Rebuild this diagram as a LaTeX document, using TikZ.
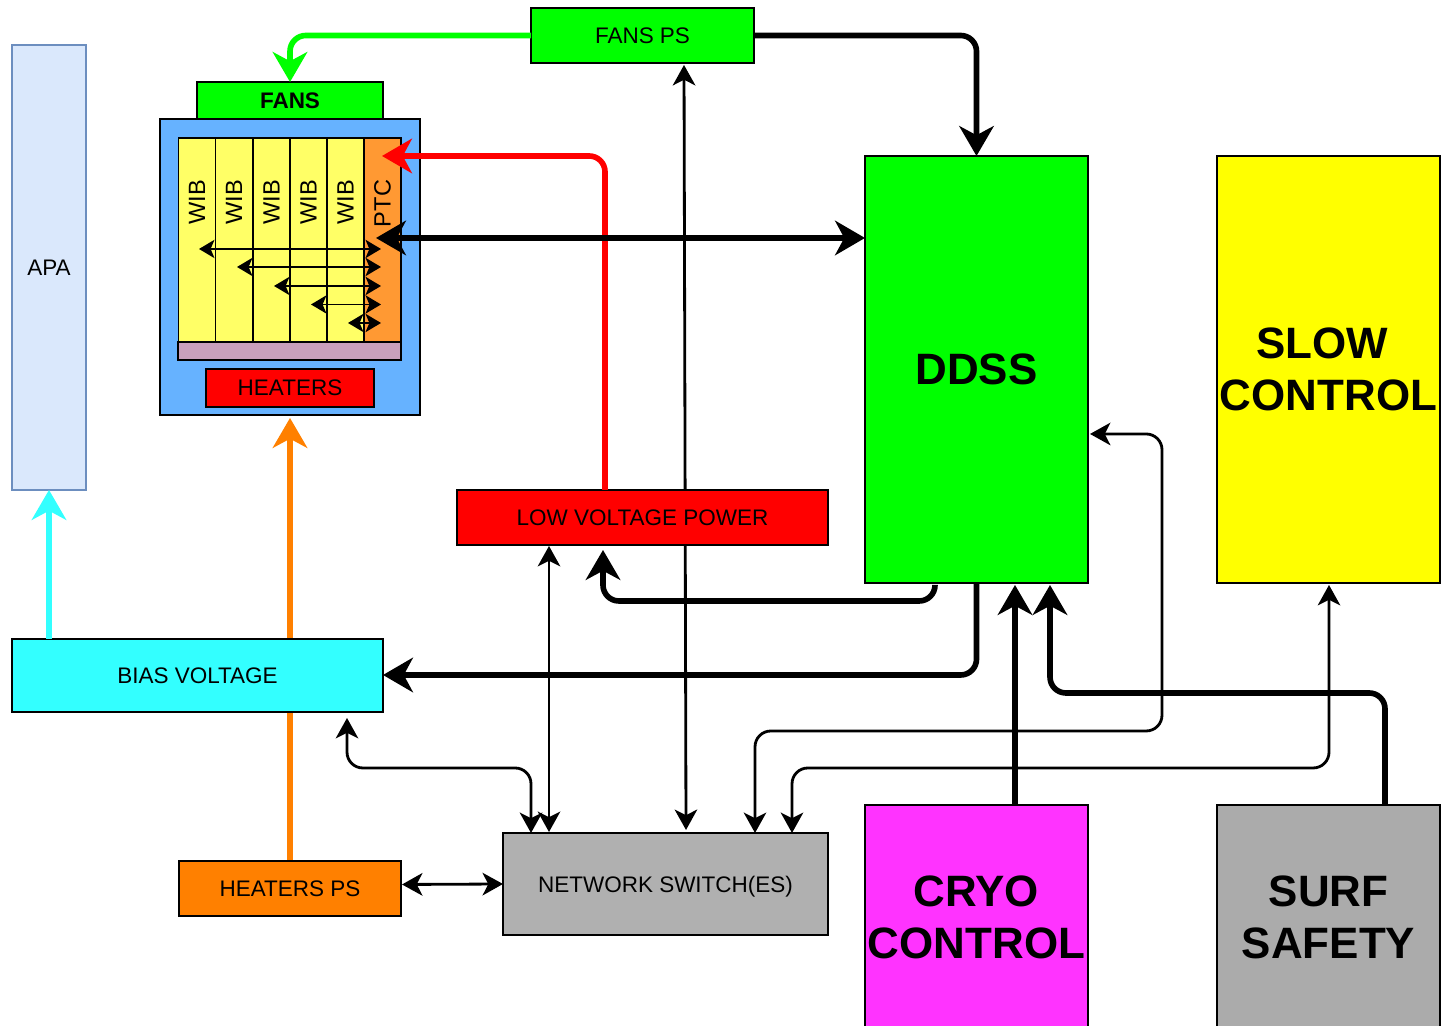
\documentclass[tikz,border=0pt]{standalone}
\usepackage{fontspec}
\setmainfont{Liberation Sans}
\usetikzlibrary{arrows.meta,calc}
\usepackage{tkz-euclide}
\pgfdeclarelayer{wires}
\pgfsetlayers{wires,main}

\definecolor{apafill}{HTML}{DAE8FC}
\definecolor{apaline}{HTML}{6C8EBF}
\definecolor{cratefill}{HTML}{66B2FF}
\definecolor{wibfill}{HTML}{FFFF66}
\definecolor{ptcfill}{HTML}{FF9933}
\definecolor{backfill}{HTML}{C9A0BC}
\definecolor{fanorange}{HTML}{FF8000}
\definecolor{biascyan}{HTML}{33FFFF}
\definecolor{cryofill}{HTML}{FF33FF}
\definecolor{slowfill}{HTML}{FFFF00}
\definecolor{fangreen}{HTML}{00FF00}
\definecolor{firered}{HTML}{FF0000}

\tikzset{
  box/.style={draw=black,line width=.42pt,inner sep=0pt,outer sep=0pt,align=center,text depth=0pt,font=\fontsize{6.4}{7.6}\selectfont},
  bigbox/.style={box,text depth=,font=\fontsize{12.5}{14.8}\selectfont\bfseries},
  slotbox/.style={box,rotate=90,minimum width=2.04cm,minimum height=.372cm,text width=1.2cm,align=right,font=\fontsize{6.7}{7.6}\selectfont},
  heavy/.style={line width=1.6pt,rounded corners=4.5pt,-{Stealth[length=8.5pt,width=9.8pt,inset=2.6pt]}},
  heavyboth/.style={line width=1.6pt,{Stealth[length=8.5pt,width=9.8pt,inset=2.6pt]}-{Stealth[length=8.5pt,width=9.8pt,inset=2.6pt]}},
  wire/.style={line width=.8pt,rounded corners=4.5pt,{Stealth[length=5.8pt,width=6.4pt,inset=1.6pt]}-{Stealth[length=5.8pt,width=6.4pt,inset=1.6pt]}},
  busline/.style={line width=.5pt,{Stealth[length=4.4pt,width=5.2pt,inset=1.1pt]}-{Stealth[length=4.4pt,width=5.2pt,inset=1.1pt]}}
}

\begin{document}
\begin{tikzpicture}
\useasboundingbox (0,0) rectangle (14.41,10.26);

\node[box,fill=fangreen,minimum width=2.23cm,minimum height=.55cm] (fansps) at (6.425,9.905) {FANS PS};
\node[box,fill=fangreen,minimum width=1.86cm,minimum height=.37cm] (fans) at (2.90,9.255) {\bfseries FANS};
\node[box,fill=cratefill,minimum width=2.60cm,minimum height=2.96cm] (crate) at (2.90,7.59) {};
\node[box,fill=apafill,draw=apaline,minimum width=.74cm,minimum height=4.45cm] (apa) at (.49,7.585) {APA};

% Define the crate slots.
\foreach \i/\xx in {1/1.97,2/2.34,3/2.715,4/3.085,5/3.455}
  \node[slotbox,fill=wibfill] (wib\i) at (\xx,7.86) {WIB};
\node[slotbox,fill=ptcfill] (ptc) at (3.825,7.86) {PTC};
\node[box,fill=backfill,minimum width=2.23cm,minimum height=.18cm] (backplane) at (2.895,6.75) {};
\node[box,fill=firered,minimum width=1.68cm,minimum height=.38cm] (heaters) at (2.90,6.38) {HEATERS};

\node[bigbox,fill=fangreen,minimum width=2.23cm,minimum height=4.27cm] (ddss) at (9.765,6.565) {DDSS};
\node[bigbox,fill=slowfill,minimum width=2.23cm,minimum height=4.27cm] (slow) at (13.285,6.565) {SLOW\hspace*{3.4pt}\\CONTROL};
\node[box,fill=firered,minimum width=3.71cm,minimum height=.55cm] (lvp) at (6.425,5.085) {LOW VOLTAGE POWER};
\node[box,fill=biascyan,minimum width=3.71cm,minimum height=.73cm] (bias) at (1.975,3.505) {BIAS VOLTAGE};
\node[box,fill=fanorange,minimum width=2.22cm,minimum height=.55cm] (heatersps) at (2.90,1.375) {HEATERS PS};
\node[box,fill=black!31,minimum width=3.25cm,minimum height=1.02cm] (switch) at (6.655,1.42) {NETWORK SWITCH(ES)};
\node[bigbox,fill=cryofill,minimum width=2.23cm,minimum height=2.25cm] (cryo) at (9.765,1.085) {CRYO\\CONTROL};
\node[bigbox,fill=black!33,minimum width=2.23cm,minimum height=2.25cm] (surf) at (13.285,1.085) {SURF\\SAFETY};

\tkzDefPoints{2.90/9.905/FanBend,9.765/9.905/PsBend}
\tkzDefPoints{6.05/5.36/RedA,6.05/8.70/RedB,3.82/8.70/RedC}
\tkzDefPoints{3.76/7.88/PtcIn,8.65/7.88/DdssIn}
\tkzDefPoints{6.84/9.61/PsLow,6.86/1.96/SwPs,5.49/4.80/LvpLow,5.49/1.94/SwLvp}
\tkzDefPoints{9.35/4.41/DdA,9.35/4.25/DdB,6.03/4.25/DdC,6.03/4.76/DdD}
\tkzDefPoints{9.765/4.43/BvA,9.765/3.51/BvB,3.83/3.51/BvC}
\tkzDefPoints{10.15/2.21/CrA,10.15/4.41/CrB}
\tkzDefPoints{13.85/2.21/SuA,13.85/3.33/SuB,10.50/3.33/SuC,10.50/4.41/SuD}
\tkzDefPoints{7.55/1.93/NetA,7.55/2.95/NetB,11.62/2.95/NetC,11.62/5.92/NetD,10.90/5.92/NetE}
\tkzDefPoints{7.92/1.93/SlA,7.92/2.58/SlB,13.29/2.58/SlC,13.29/4.41/SlD}
\tkzDefPoints{3.47/3.08/BiA,3.47/2.58/BiB,5.31/2.58/BiC,5.31/1.93/BiD}
\tkzDefPoints{.49/3.87/CyanA,2.90/6.08/OrangeTip}
\tkzDefPoints{4.02/1.415/HpA,5.03/1.42/HpB}
\tkzDefPoints{1.99/7.77/BusA1,3.81/7.77/BusB1,2.37/7.59/BusA2,3.81/7.59/BusB2}
\tkzDefPoints{2.74/7.40/BusA3,3.81/7.40/BusB3,3.11/7.215/BusA4,3.81/7.215/BusB4}
\tkzDefPoints{3.48/7.03/BusA5,3.81/7.03/BusB5}

% Lines that pass behind the boxes.
\begin{pgfonlayer}{wires}
\draw[heavy,color=fanorange] (heatersps.north) -- (OrangeTip);
\draw[wire] (PsLow) -- (SwPs);
\draw[wire] (LvpLow) -- (SwLvp);
\end{pgfonlayer}

\draw[heavy,color=fangreen] (fansps.west) -- (FanBend) -- (fans.north);
\draw[heavy] (fansps.east) -- (PsBend) -- (ddss.north);
\draw[heavy,color=firered] (RedA) -- (RedB) -- (RedC);
\draw[heavyboth] (PtcIn) -- (DdssIn);
\draw[heavy,color=biascyan] (CyanA) -- (apa.south);
\draw[heavy] (DdA) -- (DdB) -- (DdC) -- (DdD);
\draw[heavy] (BvA) -- (BvB) -- (BvC);
\draw[heavy] (CrA) -- (CrB);
\draw[heavy] (SuA) -- (SuB) -- (SuC) -- (SuD);
\draw[wire] (NetA) -- (NetB) -- (NetC) -- (NetD) -- (NetE);
\draw[wire] (SlA) -- (SlB) -- (SlC) -- (SlD);
\draw[wire] (BiA) -- (BiB) -- (BiC) -- (BiD);
\draw[wire] (HpA) -- (HpB);

\foreach \i in {1,...,5}
  \draw[busline] (BusA\i) -- (BusB\i);

\end{tikzpicture}
\end{document}
